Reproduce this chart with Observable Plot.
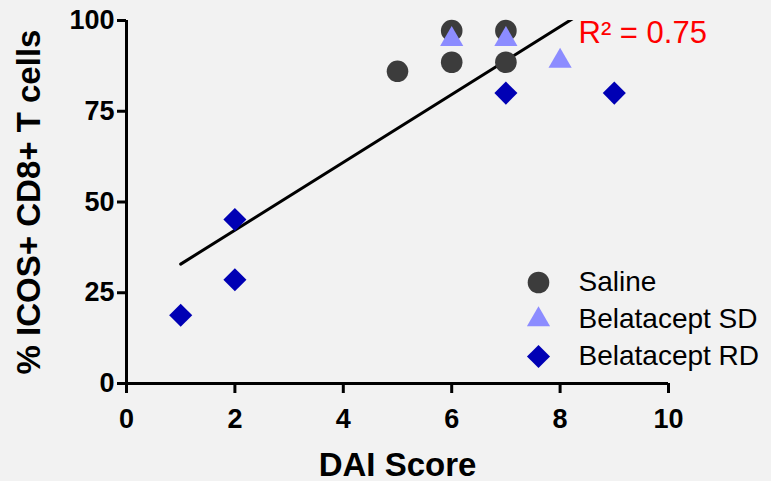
<!DOCTYPE html>
<html><head><meta charset="utf-8">
<script src="https://cdn.jsdelivr.net/npm/d3@7"></script>
<script src="https://cdn.jsdelivr.net/npm/@observablehq/plot@0.6"></script>
<style>
html,body{margin:0;padding:0;background:#f2f2f2;}
#chart svg{display:block;}
g[aria-label="x-axis label"] text{font-size:33px;}
g[aria-label="y-axis label"] text{font-size:33px;}
</style></head><body><div id="chart"></div>
<script>
const groups = ["Saline", "Belatacept SD", "Belatacept RD"];
const symbols = ["circle", "triangle", "diamond2"];
const colors = ["#3c3c3c", "#8c8cff", "#0000b4"];
const radii = [10.8, 8.6, 10.4];
const salineX = [5, 6, 6, 7, 7];
const salineY = [86, 97.2, 88.5, 97.2, 88.5];
const sdX = [6, 7, 8];
const sdY = [94.8, 94.8, 88.8];
const rdX = [1, 2, 2, 7, 9];
const rdY = [18.8, 45.2, 28.6, 80, 80];
const xTicks = [0, 2, 4, 6, 8, 10];
const yTicks = [0, 25, 50, 75, 100];
const r2Label = ["R\u00B2 = 0.75"];

const seriesX = [salineX, sdX, rdX];
const seriesY = [salineY, sdY, rdY];
const data = groups.flatMap((g, k) => seriesX[k].map((x, i) => ({group: g, x, y: seriesY[k][i]})));

const legendMarks = groups.flatMap((g, i) => [
  Plot.dot([g], {frameAnchor: "top-left", dx: 412, dy: 262 + i * 37, symbol: symbols[i], fill: colors[i], r: radii[i]}),
  Plot.text([g], {frameAnchor: "top-left", dx: 452, dy: 251 + i * 37, text: d => d, textAnchor: "start", fontSize: 28, fontWeight: "normal", fill: "black"})
]);

const chart = Plot.plot({
  width: 771,
  height: 481,
  marginLeft: 126,
  marginRight: 103,
  marginTop: 20,
  marginBottom: 98,
  style: {background: "#f2f2f2", fontFamily: "'Liberation Sans', Arial, sans-serif", fontSize: "27px", fontWeight: "bold", color: "black"},
  x: {domain: [0, 10]},
  y: {domain: [0, 100]},
  marks: [
    Plot.axisX({ticks: xTicks, tickSize: 10, tickPadding: 15, strokeWidth: 3, label: "DAI Score", labelAnchor: "center", labelArrow: "none", labelOffset: 92}),
    Plot.axisY({ticks: yTicks, tickSize: 9, tickPadding: 3, strokeWidth: 3, label: "% ICOS+ CD8+ T cells", labelAnchor: "center", labelArrow: "none", labelOffset: 110}),
    Plot.ruleX([0], {strokeWidth: 3}),
    Plot.ruleY([0], {strokeWidth: 3}),
    Plot.linearRegressionY(data, {x: "x", y: "y", ci: 0, stroke: "black", strokeWidth: 3, clip: true}),
    ...groups.map((g, i) => Plot.dot(data.filter(d => d.group === g), {x: "x", y: "y", symbol: symbols[i], fill: colors[i], r: radii[i]})),
    ...legendMarks,
    Plot.text(r2Label, {frameAnchor: "top-left", dx: 452, dy: 0, text: d => d, textAnchor: "start", fontSize: 31, fontWeight: "normal", fill: "#ff0000"})
  ]
});
document.getElementById("chart").appendChild(chart);
</script></body></html>
